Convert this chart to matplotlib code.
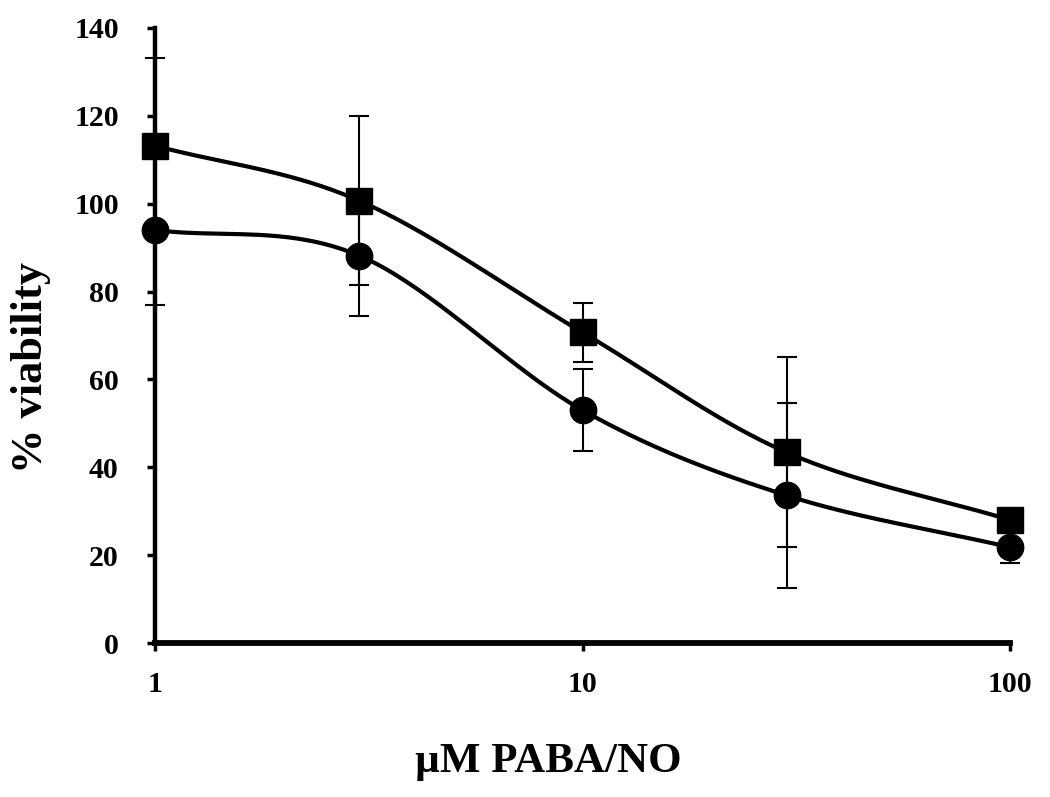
import numpy as np
import matplotlib

matplotlib.use("Agg")
import matplotlib.pyplot as plt

# concentrations (uM) and % viability
conc = [1, 3, 10, 30, 100]
square_mean = [113.2, 100.7, 70.7, 43.4, 28.0]
square_err = [20.0, 19.3, 6.8, 21.6, 1.5]
circle_mean = [94.0, 88.2, 53.0, 33.6, 21.8]
circle_err = [17.0, 13.7, 9.4, 21.0, 3.6]

y_ticks = [0, 20, 40, 60, 80, 100, 120, 140]
x_ticks = [1, 10, 100]


def smooth_curve(xs, ys, steps=40):
    # Catmull-Rom through the points in log-x space, like a spreadsheet "smoothed line"
    lx = np.log10(np.asarray(xs, dtype=float))
    y = np.asarray(ys, dtype=float)
    px = np.concatenate([[2 * lx[0] - lx[1]], lx, [2 * lx[-1] - lx[-2]]])
    py = np.concatenate([[2 * y[0] - y[1]], y, [2 * y[-1] - y[-2]]])
    out_x, out_y = [], []
    t = np.linspace(0, 1, steps)
    for i in range(1, len(px) - 2):
        p0, p1, p2, p3 = px[i - 1], px[i], px[i + 1], px[i + 2]
        q0, q1, q2, q3 = py[i - 1], py[i], py[i + 1], py[i + 2]
        m1x, m2x = (p2 - p0) / 6, (p3 - p1) / 6
        m1y, m2y = (q2 - q0) / 6, (q3 - q1) / 6
        bx = (1 - t) ** 3 * p1 + 3 * (1 - t) ** 2 * t * (p1 + m1x) + 3 * (1 - t) * t ** 2 * (p2 - m2x) + t ** 3 * p2
        by = (1 - t) ** 3 * q1 + 3 * (1 - t) ** 2 * t * (q1 + m1y) + 3 * (1 - t) * t ** 2 * (q2 - m2y) + t ** 3 * q2
        out_x.extend(bx)
        out_y.extend(by)
    return 10 ** np.array(out_x), np.array(out_y)


plt.rcParams["font.family"] = ["Liberation Serif", "DejaVu Serif"]
plt.rcParams["font.weight"] = "bold"

fig = plt.figure(figsize=(10.5, 7.97), dpi=100)
ax = fig.add_axes([0.1476, 0.1932, 0.8144, 0.7717])

for mean_vals, err_vals, marker in [
    (square_mean, square_err, "s"),
    (circle_mean, circle_err, "o"),
]:
    ax.errorbar(conc, mean_vals, yerr=err_vals, fmt="none", ecolor="black",
                elinewidth=1.5, capsize=7.2, capthick=1.5, zorder=2, clip_on=False)
    sx, sy = smooth_curve(conc, mean_vals)
    ax.plot(sx, sy, color="black", linewidth=3, zorder=3, clip_on=False)
    ax.plot(conc, mean_vals, linestyle="none", marker=marker, markersize=19,
            color="black", zorder=4, clip_on=False)

ax.set_xscale("log")
ax.set_xlim(1, 100)
ax.set_ylim(0, 140)
ax.set_xticks(x_ticks)
ax.set_xticklabels([str(v) for v in x_ticks])
ax.xaxis.set_minor_locator(matplotlib.ticker.NullLocator())
ax.set_yticks(y_ticks)

for side in ["top", "right"]:
    ax.spines[side].set_visible(False)
ax.spines["left"].set_linewidth(3.2)
ax.spines["bottom"].set_linewidth(4.2)

ax.tick_params(axis="both", direction="out", length=6, width=2.5,
               labelsize=21.5)
ax.tick_params(axis="y", pad=20)
ax.tick_params(axis="x", pad=14)
for lab in ax.get_xticklabels() + ax.get_yticklabels():
    lab.set_fontweight("bold")

fig.text(31 / 1050, 1 - 368 / 797, "% viability", rotation=90, fontsize=32,
         fontweight="bold", ha="center", va="center")
fig.text(548 / 1050, 1 - 762 / 797, "\u00b5M PABA/NO", fontsize=31,
         fontweight="bold", ha="center", va="center")

fig.savefig("out.png", dpi=100)
plt.close(fig)
